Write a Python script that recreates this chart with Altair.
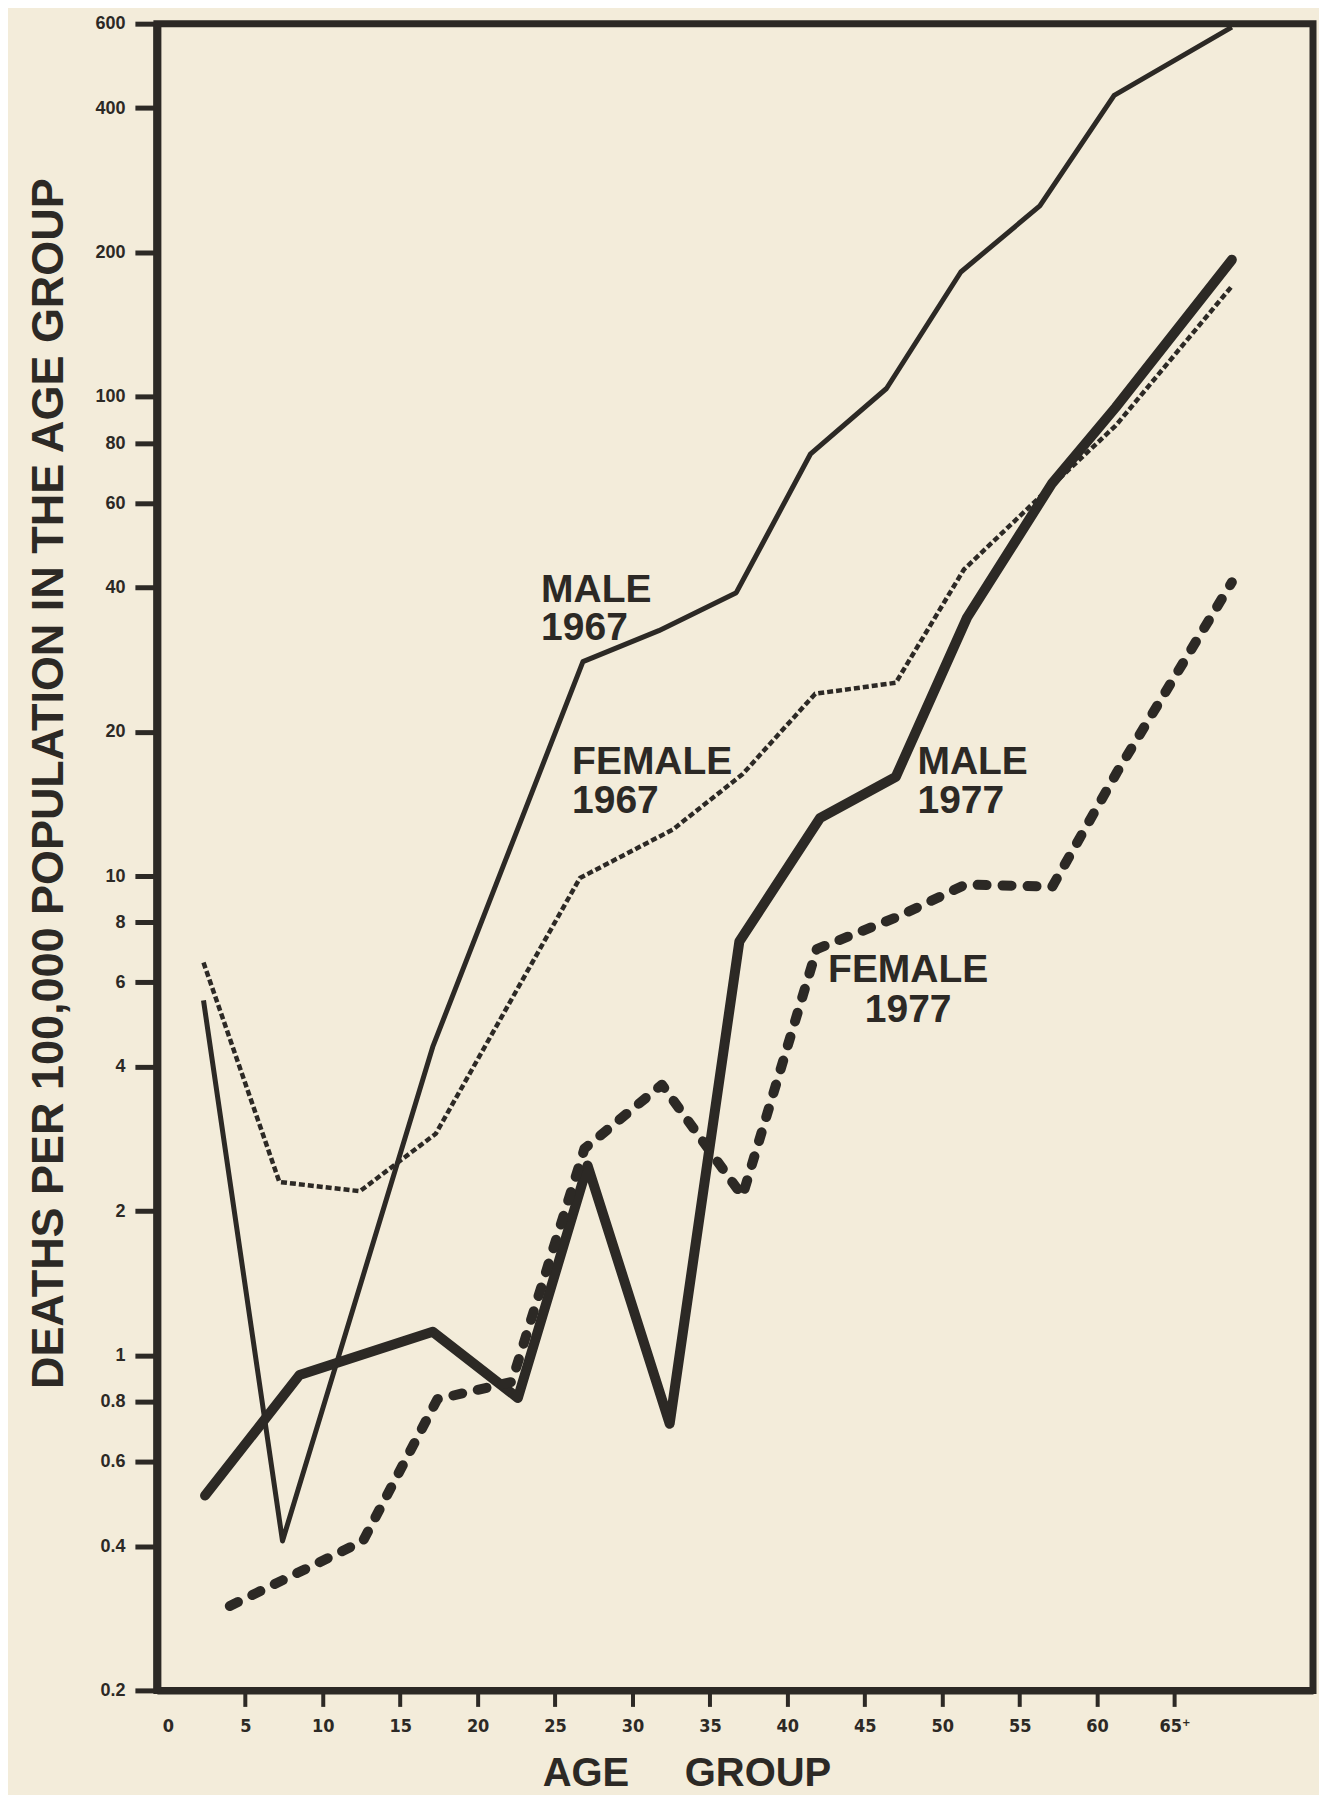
import altair as alt
import pandas as pd

# ---- data ----
age_ticks = [0, 5, 10, 15, 20, 25, 30, 35, 40, 45, 50, 55, 60, 65]
rate_ticks = [0.2, 0.4, 0.6, 0.8, 1, 2, 4, 6, 8, 10, 20, 40, 60, 80, 100, 200, 400, 600]

male_1967_age = [2.3, 7.4, 17.1, 26.8, 31.7, 36.7, 41.5, 46.4, 51.2, 56.3, 61.1, 68.7]
male_1967_rate = [5.5, 0.41, 4.4, 28, 32.5, 39, 76, 104, 182, 250, 425, 590]

female_1967_age = [2.3, 7.2, 12.4, 17.3, 26.6, 32.6, 37.1, 41.8, 47.0, 51.4, 56.8, 61.2, 68.7]
female_1967_rate = [6.6, 2.3, 2.2, 2.9, 9.9, 12.5, 16.3, 24, 25.3, 43.6, 64, 87, 170]

male_1977_age = [2.4, 8.5, 17.1, 22.6, 27.1, 32.4, 36.9, 42.1, 47.0, 51.6, 57.1, 61.2, 68.7]
male_1977_rate = [0.51, 0.91, 1.12, 0.815, 2.49, 0.72, 7.3, 13.2, 16.1, 34.6, 66, 95, 193]

female_1977_age = [4.0, 12.6, 17.4, 22.2, 26.9, 31.9, 37.1, 41.9, 47.2, 51.5, 57.1, 61.3, 68.7]
female_1977_rate = [0.30, 0.41, 0.81, 0.88, 2.7, 3.67, 2.15, 7.04, 8.24, 9.6, 9.5, 16.5, 41]

series_names = ["MALE 1967", "FEMALE 1967", "MALE 1977", "FEMALE 1977"]
series_ages = [male_1967_age, female_1967_age, male_1977_age, female_1977_age]
series_rates = [male_1967_rate, female_1967_rate, male_1977_rate, female_1977_rate]

# in-plot series labels (two lines each)
label_texts = ["MALE\n1967", "FEMALE\n1967", "MALE\n1977"]
label_ages = [24.1, 26.1, 48.4]
label_rates = [39.6, 17.3, 17.3]

center_label_texts = ["FEMALE\n1977"]
center_label_ages = [47.8]
center_label_rates = [6.36]

# ---- styling ----
ink = "#2c2925"
paper = "#f3ecda"
font = "Liberation Sans, Arial, Helvetica, sans-serif"
narrow = "Liberation Sans Narrow, DejaVu Sans Condensed, Liberation Sans, sans-serif"

styles = {
    "MALE 1967": dict(strokeWidth=5, strokeJoin="round"),
    "FEMALE 1967": dict(strokeWidth=4.5, strokeDash=[6, 3], strokeJoin="round"),
    "MALE 1977": dict(strokeWidth=10, strokeCap="round", strokeJoin="round"),
    "FEMALE 1977": dict(strokeWidth=10, strokeDash=[9, 16], strokeCap="round", strokeJoin="round"),
}

rows = []
for name, ages, rates in zip(series_names, series_ages, series_rates):
    for i, (a, r) in enumerate(zip(ages, rates)):
        rows.append({"series": name, "age": a, "rate": r, "order": i})
df = pd.DataFrame(rows)

labels_df = pd.DataFrame({"age": label_ages, "rate": label_rates, "text": label_texts})
center_labels_df = pd.DataFrame(
    {"age": center_label_ages, "rate": center_label_rates, "text": center_label_texts}
)

x_axis = alt.Axis(
    values=age_ticks,
    labelExpr="datum.value == 65 ? '65\u207a' : datum.value",
    grid=False,
    domainColor=ink, domainWidth=7,
    tickColor=ink, tickWidth=4, tickSize=16,
    tickOpacity={"condition": {"test": "datum.value == 0", "value": 0}, "value": 1},
    labelFont=narrow, labelFontSize=18, labelFontWeight="bold", labelColor=ink,
    labelPadding=11,
    title="AGE\u00a0\u00a0\u00a0\u00a0\u00a0GROUP",
    titleFont=font, titleFontSize=40, titleFontWeight="bold", titleColor=ink,
    titleX=530, titleY=95, titleAlign="center", titleBaseline="alphabetic",
)

y_axis = alt.Axis(
    values=rate_ticks,
    format=".2~f",
    grid=False,
    domainColor=ink, domainWidth=8,
    tickColor=ink, tickWidth=5, tickSize=22,
    labelFont=font, labelFontSize=18, labelFontWeight="bold", labelColor=ink,
    labelPadding=10,
    title="DEATHS PER 100,000 POPULATION IN THE AGE GROUP",
    titleFont=font, titleFontSize=45, titleFontWeight="bold", titleColor=ink,
    titleX=-108, titleY=760, titleAngle=270, titleAlign="center", titleBaseline="middle",
)

x_enc = alt.X("age:Q", scale=alt.Scale(domain=[-0.71, 73.94], nice=False, zero=False), axis=x_axis)
y_enc = alt.Y("rate:Q", scale=alt.Scale(type="log", domain=[0.2, 600], nice=False), axis=y_axis)

layers = []
for name in series_names:
    layers.append(
        alt.Chart(df)
        .transform_filter(alt.datum.series == name)
        .mark_line(color=ink, **styles[name])
        .encode(x=x_enc, y=y_enc, order="order:Q")
    )

text_layer = (
    alt.Chart(labels_df)
    .mark_text(align="left", baseline="middle", font=font, fontSize=39,
               fontWeight="bold", color=ink, lineBreak="\n", lineHeight=39)
    .encode(x=x_enc, y=y_enc, text="text:N")
)

center_text_layer = (
    alt.Chart(center_labels_df)
    .mark_text(align="center", baseline="middle", font=font, fontSize=39,
               fontWeight="bold", color=ink, lineBreak="\n", lineHeight=40)
    .encode(x=x_enc, y=y_enc, text="text:N")
)

chart = (
    alt.layer(*layers, text_layer, center_text_layer)
    .properties(
        width=1157, height=1668,
        background=paper,
        autosize=alt.AutoSizeParams(type="none"),
        padding={"left": 149, "top": 15, "right": 6, "bottom": 104},
    )
    .configure_view(stroke=ink, strokeWidth=7)
)

chart.save("out.html", embed_options={"renderer": "svg", "actions": False})
